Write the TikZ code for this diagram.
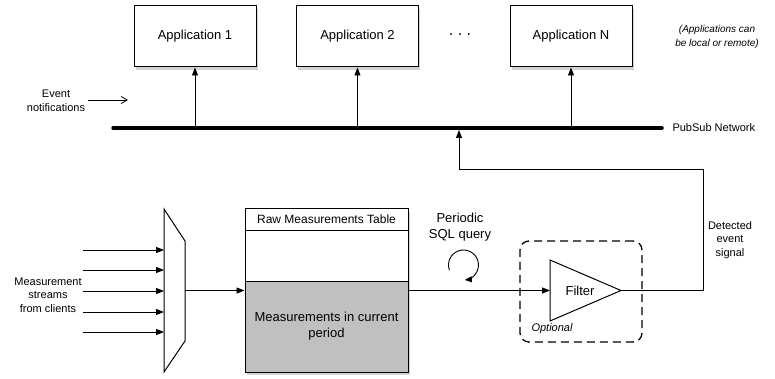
\documentclass[tikz,border=0pt]{standalone}
\usepackage{fontspec}
\setmainfont{Liberation Sans}
\usepackage{xcolor}
\usetikzlibrary{arrows.meta,shadows}
\definecolor{tblgray}{HTML}{C0C0C0}

\tikzset{
  boxshadow/.style={drop shadow={shadow xshift=1.5pt,shadow yshift=-3pt,opacity=0.35}},
  appbox/.style={draw,line width=1pt,fill=white,minimum width=122pt,minimum height=61pt,boxshadow,font=\fontsize{13}{16}\selectfont},
  tblcell/.style={draw,line width=1pt,minimum width=163pt,inner sep=0pt,align=center},
  flow/.style={line width=0.9pt,-{Triangle[length=8pt,width=6pt]}},
  bigtxt/.style={align=center,font=\fontsize{13}{16}\selectfont},
  smalltxt/.style={align=center,font=\fontsize{11}{13.5}\selectfont},
}

\begin{document}
\begin{tikzpicture}[x=1pt,y=-1pt]
\useasboundingbox (0,0) rectangle (775,379);

% applications and the bus
\node[appbox] (app1) at (195,36.5) {Application 1};
\node[appbox] (app2) at (357.5,36.5) {Application 2};
\node[appbox] (appN) at (571,36.5) {Application N};
\node[font=\fontsize{16}{16}\selectfont] (dots) at (460,35) {.\hspace{4.5pt}.\hspace{4.5pt}.};
\node[align=center,font=\fontsize{10}{13.5}\selectfont\itshape] (where) at (717,37) {(Applications can\\be local or remote)};

\coordinate (busL) at (113,128);
\coordinate (busR) at (662,128);
\draw[line width=3.5pt,line cap=round] (busL) -- (busR);
\node[smalltxt,anchor=west] (pubsub) at (669,128) {PubSub Network};

\draw[flow] (app1 |- busL) -- (app1.south);
\draw[flow] (app2 |- busL) -- (app2.south);
\draw[flow] (appN |- busL) -- (appN.south);

\node[smalltxt] (evnote) at (56,101) {Event\\notifications};
\coordinate (evS) at (88,100);
\coordinate (evE) at (128,100);
\draw[line width=0.8pt,-{Straight Barb[length=6pt,width=7pt]}] (evS) -- (evE);

% streams into the multiplexer
\node[smalltxt] (streams) at (48,295) {Measurement\\streams\\from clients};
\draw[line width=1pt,fill=white] (164,209) -- (185,241) -- (185,341) -- (164,372) -- cycle;
\coordinate (muxout) at (185,290.5);
\foreach \y/\n in {250/a,270/b,291/c,312/d,332/e} {
  \coordinate (in\n) at (83,\y);
  \coordinate (mux\n) at (164,\y);
  \draw[flow] (in\n) -- (mux\n);
}

% raw measurements table
\node[tblcell,minimum height=163pt,fill=white,boxshadow] (rawtbl) at (326.5,290.5) {};
\node[tblcell,minimum height=21pt,anchor=north,font=\fontsize{12}{15}\selectfont] (rawhead) at (rawtbl.north) {Raw Measurements Table};
\node[tblcell,minimum height=91pt,anchor=south,fill=tblgray,font=\fontsize{13}{16}\selectfont] (rawcur) at (rawtbl.south) {Measurements in current\\period};
\draw[flow] (muxout) -- (rawtbl.west |- muxout);

% periodic query
\node[bigtxt] (query) at (460,227) {Periodic\\SQL query};
\draw[line width=0.9pt,-{Triangle[length=7pt,width=6pt]}] (463.5,265) ++(160:15) arc[start angle=160,end angle=445,radius=15];

% optional filter
\node[draw,line width=1.3pt,dash pattern=on 8pt off 5pt,rounded corners=9pt,minimum width=122pt,minimum height=101pt] (optbox) at (581,291.5) {};
\coordinate (fltin) at (550,290.5);
\coordinate (flttip) at (621,290.5);
\draw[line width=1pt,fill=white] (550,260) -- (flttip) -- (550,321) -- cycle;
\node[bigtxt] (filter) at (580,291) {Filter};
\node[font=\fontsize{11}{13.5}\selectfont\itshape] (optional) at (552,329) {Optional};
\draw[flow] (rawtbl.east) -- (fltin);

% detected event back to the bus
\node[smalltxt] (detected) at (730,240) {Detected\\event\\signal};
\coordinate (sigcorner) at (703,169);
\coordinate (tap) at (459,130);
\draw[flow] (flttip) -| (sigcorner) -| (tap);

\end{tikzpicture}
\end{document}
